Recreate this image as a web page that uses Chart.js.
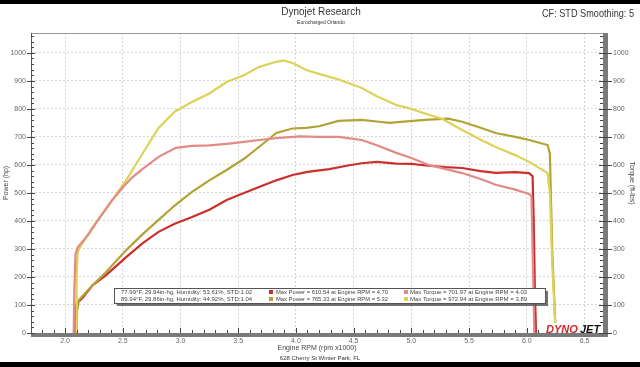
<!DOCTYPE html>
<html lang="en">
<head>
<meta charset="UTF-8">
<title>Dynojet Research</title>
<script src="https://cdn.jsdelivr.net/npm/chart.js"></script>
<style>
  body { margin: 0; background: #fff; }
  #wrap { width: 640px; height: 367px; }
</style>
</head>
<body>
<div id="wrap"><canvas id="dyno" width="640" height="367"></canvas></div>
<script>
// run 1 (red / pink)
const rpmPower1 = [2.08, 2.085, 2.10, 2.15, 2.24, 2.35, 2.53, 2.67, 2.81, 2.95, 3.10, 3.25, 3.40, 3.55, 3.68, 3.83, 3.97, 4.10, 4.29, 4.45, 4.57, 4.70, 4.87, 5.00, 5.15, 5.30, 5.44, 5.60, 5.73, 5.90, 6.02, 6.05, 6.06, 6.07, 6.08];
const power1 = [0, 60, 105, 125, 171, 205, 271, 320, 361, 390, 414, 440, 475, 500, 521, 545, 564, 575, 585, 598, 606, 611, 605, 604, 597, 592, 589, 578, 572, 574, 571, 560, 400, 150, 0];
const rpmTorque1 = [2.075, 2.08, 2.09, 2.11, 2.2, 2.3, 2.4, 2.49, 2.58, 2.67, 2.81, 2.96, 3.10, 3.25, 3.40, 3.55, 3.68, 3.83, 4.03, 4.20, 4.37, 4.57, 4.70, 4.87, 5.00, 5.15, 5.30, 5.44, 5.60, 5.73, 5.90, 6.02, 6.04, 6.05, 6.065];
const torque1 = [0, 150, 280, 306, 350, 412, 470, 515, 555, 585, 629, 661, 668, 670, 675, 682, 689, 696, 702, 700, 700, 689, 670, 643, 625, 600, 585, 571, 550, 529, 512, 496, 490, 300, 0];

// run 2 (olive / yellow)
const rpmPower2 = [2.10, 2.105, 2.12, 2.24, 2.35, 2.53, 2.67, 2.81, 2.95, 3.10, 3.25, 3.40, 3.55, 3.68, 3.83, 3.97, 4.09, 4.20, 4.37, 4.57, 4.70, 4.81, 5.01, 5.15, 5.32, 5.44, 5.60, 5.73, 5.90, 6.02, 6.18, 6.20, 6.22, 6.25];
const power2 = [0, 80, 118, 171, 215, 296, 352, 404, 455, 504, 545, 582, 622, 664, 714, 730, 732, 738, 757, 761, 755, 750, 757, 762, 765, 754, 733, 714, 700, 689, 671, 640, 300, 0];
const rpmTorque2 = [2.095, 2.10, 2.11, 2.14, 2.24, 2.35, 2.53, 2.67, 2.81, 2.95, 3.10, 3.25, 3.40, 3.55, 3.68, 3.80, 3.89, 3.97, 4.09, 4.20, 4.37, 4.57, 4.70, 4.87, 5.00, 5.15, 5.27, 5.44, 5.60, 5.73, 5.90, 6.02, 6.18, 6.20, 6.22, 6.25];
const torque2 = [0, 200, 290, 314, 379, 440, 546, 640, 732, 790, 825, 855, 896, 920, 950, 965, 973, 964, 939, 925, 905, 875, 845, 814, 800, 779, 764, 725, 690, 664, 635, 611, 571, 500, 250, 0];

const xTicks = [2.0, 2.5, 3.0, 3.5, 4.0, 4.5, 5.0, 5.5, 6.0, 6.5];
const yTicks = [0, 100, 200, 300, 400, 500, 600, 700, 800, 900, 1000];

const runInfo = ['77.99°F, 29.94in-hg, Humidity: 53.61%, STD:1.02', '89.94°F, 29.86in-hg, Humidity: 44.92%, STD:1.04'];
const maxPowerText = ['Max Power = 610.54 at Engine RPM = 4.70', 'Max Power = 765.33 at Engine RPM = 5.32'];
const maxTorqueText = ['Max Torque = 701.97 at Engine RPM = 4.03', 'Max Torque = 972.94 at Engine RPM = 3.89'];

const RED = '#c9302c', PINK = '#e38a86', OLIVE = '#b3a236', YELLOW = '#dbd256';
const FONT = '"Liberation Sans", Arial, sans-serif';

function pts(xs, ys) {
  return xs.map((x, i) => ({ x: x, y: ys[i] }));
}

const dynoFrame = {
  id: 'dynoFrame',
  beforeDraw(chart) {
    const c = chart.ctx;
    c.save();
    c.fillStyle = '#fff';
    c.fillRect(0, 0, chart.width, chart.height);
    c.fillStyle = '#000';
    c.fillRect(0, 0, chart.width, 4);
    c.fillRect(0, 362, chart.width, 5);

    c.fillStyle = '#333';
    c.textAlign = 'center';
    c.textBaseline = 'middle';
    c.font = '10px ' + FONT;
    c.fillText('Dynojet Research', 321, 12);
    c.font = '5px ' + FONT;
    c.fillText('Eurocharged Orlando', 321, 23);
    c.font = '6px ' + FONT;
    c.fillText('628 Cherry St Winter Park, FL', 320, 358);
    c.textAlign = 'left';
    c.font = '11px ' + FONT;
    c.fillText('CF: STD Smoothing: 5', 542, 14, 92);
    c.restore();
  },
  afterDatasetsDraw(chart) {
    const c = chart.ctx;
    const { left, right, top, bottom } = chart.chartArea;
    const xs = chart.scales.x, ys = chart.scales.y;
    c.save();

    // frame
    c.strokeStyle = '#999';
    c.lineWidth = 1;
    c.beginPath();
    c.moveTo(left, top + 0.5); c.lineTo(right, top + 0.5);
    c.stroke();
    c.strokeStyle = '#555';
    c.beginPath();
    c.moveTo(left + 0.5, top); c.lineTo(left + 0.5, bottom);
    c.stroke();
    c.fillStyle = '#7a7a7a';
    c.fillRect(left, bottom, right + 5 - left, 4);
    c.fillRect(right, top, 5, bottom + 4 - top);

    // tick marks
    c.strokeStyle = '#444';
    c.beginPath();
    for (let t = 18; t <= 66; t++) {
      const px = Math.round(xs.getPixelForValue(t / 10)) + 0.5;
      if (px < left || px > right) continue;
      const len = t % 5 === 0 ? 5 : 3;
      c.moveTo(px, bottom); c.lineTo(px, bottom - len);
    }
    for (let v = 0; v <= 1060; v += 20) {
      const py = Math.round(ys.getPixelForValue(v)) + 0.5;
      const major = v % 100 === 0;
      c.moveTo(major ? left - 4 : left, py); c.lineTo(left + (major ? 4 : 3), py);
      c.moveTo(right - (major ? 4 : 3), py); c.lineTo(major ? right + 9 : right, py);
    }
    c.stroke();

    // info box
    c.fillStyle = 'rgba(90,90,90,0.85)';
    c.fillRect(117, 291, 431, 15);
    c.fillStyle = '#fff';
    c.fillRect(114, 288, 431, 15);
    c.strokeStyle = '#555';
    c.strokeRect(114.5, 288.5, 431, 15);
    c.font = '6px ' + FONT;
    c.textBaseline = 'middle';
    c.textAlign = 'left';
    const rowY = [292, 299];
    const powCol = [RED, OLIVE], torCol = [PINK, YELLOW];
    for (let i = 0; i < 2; i++) {
      c.fillStyle = '#444';
      c.fillText(runInfo[i], 121, rowY[i], 134);
      c.fillText(maxPowerText[i], 276, rowY[i], 112);
      c.fillText(maxTorqueText[i], 410, rowY[i], 119);
      c.fillStyle = powCol[i];
      c.fillRect(269, rowY[i] - 2, 4, 4);
      c.fillStyle = torCol[i];
      c.fillRect(404, rowY[i] - 2, 4, 4);
    }

    // logo
    c.fillStyle = '#fff';
    c.fillRect(544, 323, right - 544, bottom - 323);
    c.font = 'italic bold 11px ' + FONT;
    c.textBaseline = 'alphabetic';
    c.fillStyle = '#d42a2a';
    c.fillText('DYNO', 546, 333, 33);
    c.fillStyle = '#111';
    c.fillText('JET', 580, 333, 23);
    c.restore();
  }
};

const tickFont = { size: 7, family: FONT };

new Chart(document.getElementById('dyno').getContext('2d'), {
  type: 'line',
  data: {
    datasets: [
      { label: 'Torque 1', data: pts(rpmTorque1, torque1), borderColor: PINK, yAxisID: 'y1' },
      { label: 'Torque 2', data: pts(rpmTorque2, torque2), borderColor: YELLOW, yAxisID: 'y1' },
      { label: 'Power 2', data: pts(rpmPower2, power2), borderColor: OLIVE, yAxisID: 'y' },
      { label: 'Power 1', data: pts(rpmPower1, power1), borderColor: RED, yAxisID: 'y' }
    ]
  },
  options: {
    responsive: false,
    animation: false,
    elements: {
      line: { borderWidth: 2.2, tension: 0, fill: false },
      point: { radius: 0 }
    },
    layout: { padding: { top: 33, left: 0, right: 0, bottom: 0 } },
    plugins: {
      legend: { display: false },
      tooltip: { enabled: false }
    },
    scales: {
      x: {
        type: 'linear',
        min: 1.705,
        max: 6.66,
        afterBuildTicks: s => { s.ticks = xTicks.map(v => ({ value: v })); },
        afterFit: s => { s.height = 34; },
        ticks: { callback: v => v.toFixed(1), font: tickFont, color: '#666', padding: 4, maxRotation: 0, autoSkip: false },
        grid: { color: '#d4d4d4', drawTicks: false },
        border: { display: false, dash: [2, 2] },
        title: { display: true, text: 'Engine RPM (rpm x1000)', font: tickFont, color: '#444', padding: { top: 0, bottom: 15 } }
      },
      y: {
        position: 'left',
        min: 0,
        max: 1071,
        afterBuildTicks: s => { s.ticks = yTicks.map(v => ({ value: v })); },
        afterFit: s => { s.width = 31; },
        ticks: { callback: v => String(v), font: tickFont, color: '#666', padding: 5 },
        grid: { color: '#d4d4d4', drawTicks: false },
        border: { display: false, dash: [2, 2] },
        title: { display: true, text: 'Power (hp)', font: tickFont, color: '#444', padding: { top: 2, bottom: 0 } }
      },
      y1: {
        position: 'right',
        min: 0,
        max: 1071,
        afterBuildTicks: s => { s.ticks = yTicks.map(v => ({ value: v })); },
        afterFit: s => { s.width = 37; },
        ticks: { callback: v => String(v), font: tickFont, color: '#666', padding: 10 },
        grid: { display: false, drawTicks: false },
        border: { display: false },
        title: { display: true, text: 'Torque (ft-lbs)', font: tickFont, color: '#444', padding: { top: 4, bottom: 0 } }
      }
    }
  },
  plugins: [dynoFrame]
});
</script>
</body>
</html>
